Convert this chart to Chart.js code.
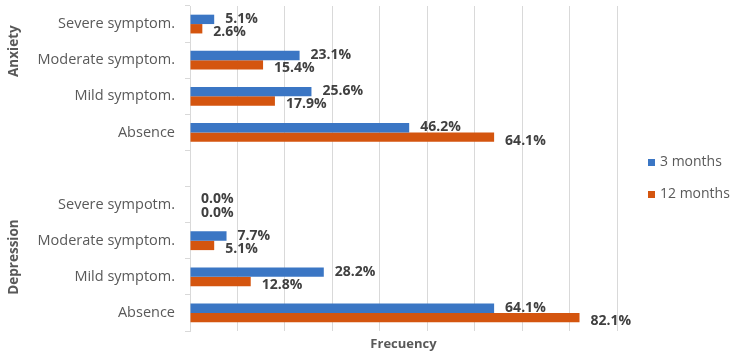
<!DOCTYPE html>
<html>
<head>
<meta charset="utf-8">
<script src="https://cdn.jsdelivr.net/npm/chart.js@4.4.1/dist/chart.umd.min.js"></script>
<style>
  html, body { margin: 0; padding: 0; background: #fff; }
  #wrap { width: 734px; height: 352px; position: relative; }
</style>
</head>
<body>
<div id="wrap"><canvas id="c"></canvas></div>
<script>
// categories top to bottom; the blank row separates the two groups
const categories = [
  'Severe symptom.', 'Moderate symptom.', 'Mild symptom.', 'Absence',
  '',
  'Severe sympotm.', 'Moderate symptom.', 'Mild symptom.', 'Absence'
];
const groups = [
  { label: 'Anxiety', at: 0.75 },
  { label: 'Depression', at: 6.45 },
];
const months3 = [5.1, 23.1, 25.6, 46.2, null, 0.0, 7.7, 28.2, 64.1];
const months12 = [2.6, 15.4, 17.9, 64.1, null, 0.0, 5.1, 12.8, 82.1];
const seriesNames = ['3 months', '12 months'];

const BLUE = '#3b76c4';
const ORANGE = '#d4550f';
const GRAY = '#595959';

// value labels at the end of each bar
const valueLabels = {
  id: 'valueLabels',
  afterDatasetsDraw(chart) {
    const { ctx } = chart;
    ctx.save();
    ctx.font = 'bold 14px "Open Sans"';
    ctx.fillStyle = '#404040';
    ctx.textBaseline = 'middle';
    ctx.textAlign = 'left';
    chart.data.datasets.forEach((ds, di) => {
      const meta = chart.getDatasetMeta(di);
      meta.data.forEach((bar, i) => {
        const v = ds.data[i];
        if (v === null) return;
        const dy = di === 0 ? -0.5 : 3.5;
        ctx.fillText(v.toFixed(1) + '%', bar.x + 11, bar.y + dy);
      });
    });
    ctx.restore();
  }
};

// rotated group names left of the category labels
const groupLabels = {
  id: 'groupLabels',
  afterDraw(chart) {
    const { ctx, scales } = chart;
    ctx.save();
    ctx.font = 'bold 13.5px "Open Sans"';
    ctx.fillStyle = GRAY;
    ctx.textAlign = 'center';
    ctx.textBaseline = 'middle';
    groups.forEach(g => {
      const y = scales.y.getPixelForValue(g.at);
      ctx.save();
      ctx.translate(14, y);
      ctx.rotate(-Math.PI / 2);
      ctx.fillText(g.label, 0, 0);
      ctx.restore();
    });
    ctx.restore();
  }
};

// legend to the right of the plot
const sideLegend = {
  id: 'sideLegend',
  afterDraw(chart) {
    const { ctx, chartArea } = chart;
    const colors = [BLUE, ORANGE];
    const x = chartArea.right + 31;
    const yMid = (chartArea.top + chartArea.bottom) / 2;
    ctx.save();
    ctx.font = '14px "Open Sans"';
    ctx.textBaseline = 'middle';
    ctx.textAlign = 'left';
    seriesNames.forEach((name, i) => {
      const y = yMid - 6 + i * 32;
      ctx.fillStyle = colors[i];
      ctx.fillRect(x, y - 3.5, 7, 7);
      ctx.fillStyle = GRAY;
      ctx.fillText(name, x + 12, y);
    });
    ctx.restore();
  }
};

new Chart(document.getElementById('c'), {
  type: 'bar',
  data: {
    labels: categories,
    datasets: [
      { label: seriesNames[0], data: months3, backgroundColor: BLUE },
      { label: seriesNames[1], data: months12, backgroundColor: ORANGE },
    ]
  },
  options: {
    indexAxis: 'y',
    responsive: true,
    maintainAspectRatio: false,
    animation: false,
    categoryPercentage: 0.52,
    barPercentage: 1.0,
    layout: { padding: { top: 6, left: 0, right: 117 } },
    scales: {
      x: {
        min: 0, max: 90,
        ticks: { display: false, stepSize: 10 },
        grid: { color: '#d9d9d9', drawTicks: false },
        border: { display: false },
        title: {
          display: true, text: 'Frecuency',
          color: GRAY, font: { family: 'Open Sans', size: 13, weight: 'bold' },
          padding: { top: 2, bottom: 0 }
        },
        afterFit(scale) {
          scale.height = 21;
          scale.paddingLeft = 0; scale.paddingRight = 0;
        }
      },
      y: {
        ticks: {
          color: GRAY, padding: 10,
          font: { family: 'Open Sans', size: 14.5 }
        },
        grid: { drawOnChartArea: false, tickLength: 5, color: '#d9d9d9' },
        border: { color: '#d9d9d9' },
        afterFit(scale) {
          scale.width = 190;
          scale.paddingTop = 0; scale.paddingBottom = 0;
        }
      }
    },
    plugins: {
      legend: { display: false },
      tooltip: { enabled: false }
    }
  },
  plugins: [valueLabels, groupLabels, sideLegend]
});
</script>
</body>
</html>
